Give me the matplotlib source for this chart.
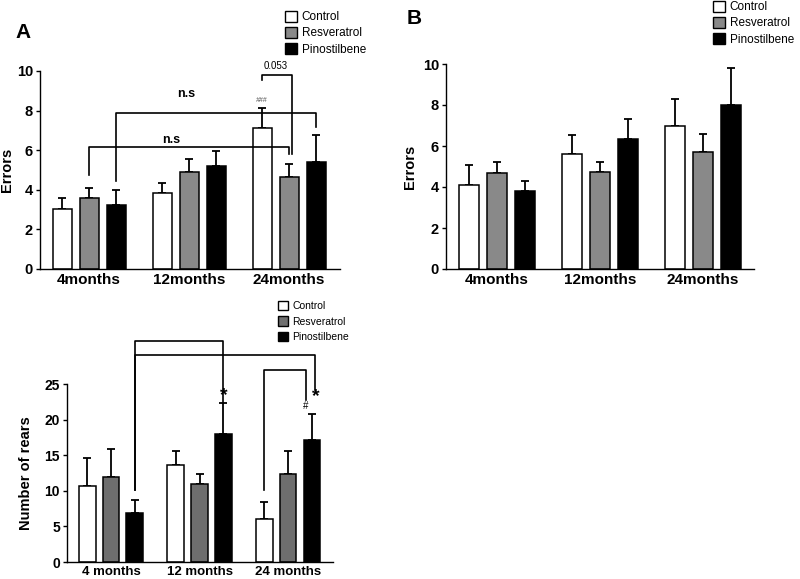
import matplotlib
matplotlib.use("Agg")
import matplotlib.pyplot as plt
import numpy as np
from matplotlib.patches import Patch

plt.rcParams['font.family'] = ['Liberation Sans', 'DejaVu Sans']

groups = ["Control", "Resveratrol", "Pinostilbene"]
months_a = ["4months", "12months", "24months"]
months_c = ["4 months", "12 months", "24 months"]

# panel A: errors
a_ctrl = [3.03, 3.83, 7.14]
a_ctrl_err = [0.55, 0.51, 1.01]
a_resv = [3.58, 4.92, 4.67]
a_resv_err = [0.50, 0.63, 0.64]
a_pino = [3.21, 5.18, 5.41]
a_pino_err = [0.79, 0.79, 1.36]

# panel B: errors
b_ctrl = [4.11, 5.61, 7.00]
b_ctrl_err = [0.95, 0.91, 1.31]
b_resv = [4.68, 4.72, 5.69]
b_resv_err = [0.52, 0.48, 0.91]
b_pino = [3.79, 6.34, 8.00]
b_pino_err = [0.49, 0.99, 1.80]

# panel C: number of rears
c_ctrl = [10.67, 13.63, 5.97]
c_ctrl_err = [3.99, 2.02, 2.39]
c_resv = [11.98, 10.90, 12.31]
c_resv_err = [3.90, 1.41, 3.29]
c_pino = [6.95, 18.00, 17.15]
c_pino_err = [1.74, 4.40, 3.62]

W, H = 800, 579
fig = plt.figure(figsize=(W / 100, H / 100), dpi=100)


def px_axes(left, right, top, bottom):
    return fig.add_axes([left / W, 1 - bottom / H, (right - left) / W, (bottom - top) / H])


def bars(ax, vals, errs, colors, width, offset, lw=1.1):
    x = np.arange(3)
    for i, (v, e, c) in enumerate(zip(vals, errs, colors)):
        pos = x + (i - 1) * offset
        ax.bar(pos, v, width, color=c, edgecolor='black', linewidth=lw, zorder=2)
        ax.errorbar(pos, v, yerr=[np.zeros(3), e], fmt='none', ecolor='black',
                    elinewidth=1.3, capsize=3, capthick=1.3, zorder=1)


def style(ax, ylabel, ticks, xlabels, label_x, xfs=10, yfs=9):
    for s in ['top', 'right']:
        ax.spines[s].set_visible(False)
    ax.spines['left'].set_linewidth(1.0)
    ax.spines['bottom'].set_linewidth(1.0)
    ax.set_yticks(ticks)
    ax.set_yticklabels([str(t) for t in ticks], fontsize=yfs, fontweight='bold')
    ax.set_xticks(range(3))
    ax.set_xticklabels(xlabels, fontsize=xfs, fontweight='bold')
    ax.tick_params(axis='x', length=0, pad=3)
    ax.tick_params(axis='y', length=3, width=1.0, pad=2)
    ax.set_ylabel(ylabel, fontsize=10.5, fontweight='bold')
    ax.yaxis.set_label_coords(label_x, 0.5)
    ax.set_ylim(ticks[0], ticks[-1])


def bracket(ax, x1, y1, top, x2, y2, lw=1.2):
    ax.plot([x1, x1, x2, x2], [y1, top, top, y2], color='black', lw=lw,
            clip_on=False, zorder=3)


def legend(x, y, fs, spacing, grey):
    handles = [Patch(facecolor=c, edgecolor='black', linewidth=1.0)
               for c in ['white', grey, 'black']]
    fig.legend(handles, groups, loc='upper left', bbox_to_anchor=(x / W, 1 - y / H),
               frameon=False, fontsize=fs, handlelength=1.0, handleheight=1.0,
               handletextpad=0.4, labelspacing=spacing, borderpad=0, borderaxespad=0)


grey_top = '#898989'
grey_bot = '#6e6e6e'

# ---- panel A ----
axA = px_axes(40, 340, 71, 269)
offA, wA = 0.27, 0.19
bars(axA, [a_ctrl, a_resv, a_pino], [a_ctrl_err, a_resv_err, a_pino_err],
     ['white', grey_top, 'black'], wA, offA)
style(axA, "Errors", [0, 2, 4, 6, 8, 10], months_a, -0.087, xfs=11, yfs=10.5)
axA.set_xlim(-0.49, 2.51)
bracket(axA, 0, 4.76, 6.18, 2, 5.82)
axA.text(0.82, 6.52, "n.s", ha='center', va='center', fontsize=9, fontweight='bold')
bracket(axA, offA, 4.42, 7.9, 2 + offA, 7.19)
axA.text(0.97, 8.82, "n.s", ha='center', va='center', fontsize=9, fontweight='bold')
bracket(axA, 2 - offA, 9.55, 9.8, 2.03, 5.82)
axA.text(1.87, 10.27, "0.053", ha='center', va='center', fontsize=7)
axA.text(2 - offA, 8.5, "###", ha='center', va='center', fontsize=5,
         style='italic', color='#555555')
fig.text(15 / W, 1 - 33 / H, "A", fontsize=15, fontweight='bold', va='center', ha='left')
legend(285, 11, 8.5, 0.32, grey_top)

# ---- panel B ----
axB = px_axes(446, 754, 64, 269)
offB, wB = 0.272, 0.194
bars(axB, [b_ctrl, b_resv, b_pino], [b_ctrl_err, b_resv_err, b_pino_err],
     ['white', grey_top, 'black'], wB, offB)
style(axB, "Errors", [0, 2, 4, 6, 8, 10], months_a, -0.094, xfs=11, yfs=10.5)
axB.set_xlim(-0.495, 2.495)
fig.text(407 / W, 1 - 18 / H, "B", fontsize=15, fontweight='bold', va='center', ha='left')
legend(713, 1, 8.5, 0.32, grey_top)

# ---- panel C ----
axC = px_axes(67, 333, 384, 562)
offC, wC = 0.27, 0.19
bars(axC, [c_ctrl, c_resv, c_pino], [c_ctrl_err, c_resv_err, c_pino_err],
     ['white', grey_bot, 'black'], wC, offC)
style(axC, "Number of rears", [0, 5, 10, 15, 20, 25], months_c, -0.128, xfs=9.5, yfs=10)
axC.set_xlim(-0.497, 2.508)
bracket(axC, offC, 10.1, 31.0, 1 + offC, 22.4)
bracket(axC, offC, 10.1, 29.1, 2 + offC + 0.04, 24.2)
bracket(axC, 2 - offC, 10.1, 27.0, 2 + offC - 0.07, 22.8)
axC.text(1 + offC, 23.4, "*", ha='center', va='center', fontsize=14, fontweight='bold')
axC.text(2 + offC + 0.04, 23.3, "*", ha='center', va='center', fontsize=14, fontweight='bold')
axC.text(2 + offC - 0.07, 21.9, "#", ha='center', va='center', fontsize=7)
legend(278, 301, 7.5, 0.5, grey_bot)

fig.savefig("out.png", dpi=100)
